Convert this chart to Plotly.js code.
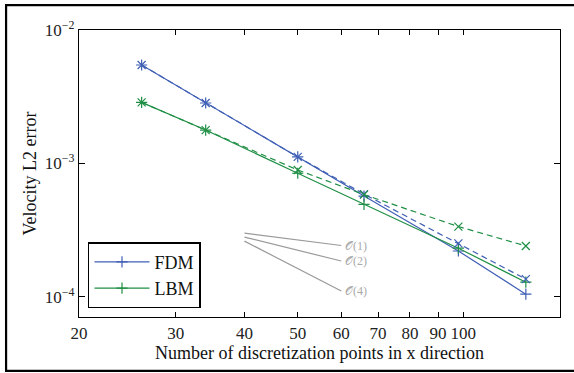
<!DOCTYPE html>
<html>
<head>
<meta charset="utf-8">
<script src="https://cdn.plot.ly/plotly-3.0.1.min.js"></script>
<style>html,body{margin:0;padding:0;background:#fff;}#plot{width:574px;height:373px;}</style>
</head>
<body>
<div id="plot"></div>
<script>
// ---- data ----
const nPoints = [26, 34, 50, 66, 98, 130];
const fdmSolid = [5.47e-3, 2.84e-3, 1.12e-3, 5.7e-4, 2.21e-4, 1.05e-4];
const fdmDashed = [5.47e-3, 2.84e-3, 1.12e-3, 5.9e-4, 2.52e-4, 1.36e-4];
const lbmSolid = [2.87e-3, 1.78e-3, 8.45e-4, 4.94e-4, 2.32e-4, 1.29e-4];
const lbmDashed = [2.87e-3, 1.78e-3, 8.94e-4, 5.85e-4, 3.37e-4, 2.41e-4];

const refX = [40, 60];
const refO1 = [3.01e-4, 2.43e-4];
const refO2 = [2.81e-4, 1.86e-4];
const refO4 = [2.62e-4, 1.11e-4];
const refLabels = ["𝒪(1)", "𝒪(2)", "𝒪(4)"];

const xTickVals = [20, 30, 40, 50, 60, 70, 80, 90, 100];
const yMajor = [1e-4, 1e-3, 1e-2];
const yMajorText = ['10<sup>−4</sup>', '10<sup>−3</sup>', '10<sup>−2</sup>'];
const yMinor = [];
[1e-5, 1e-4, 1e-3].forEach(d => { for (let k = 2; k <= 9; k++) yMinor.push(k * d); });

const blue = '#3f5fb5';
const green = '#1f8f45';
const FONT = 'Liberation Serif, Times New Roman, serif';

function series(y, color, dash, sym, name, show) {
  return {
    x: nPoints, y: y, type: 'scatter', mode: 'lines+markers', name: name, showlegend: show,
    line: {color: color, width: 1.2, dash: dash},
    marker: {symbol: sym, size: 8, color: color, line: {color: color, width: 1.2}}
  };
}

const traces = [
  series(fdmSolid, blue, 'solid', 'cross-thin', 'FDM', true),
  series(lbmSolid, green, 'solid', 'cross-thin', 'LBM', true),
  series(fdmDashed, blue, '6px,4px', 'x-thin', 'FDM (dashed)', false),
  series(lbmDashed, green, '6px,4px', 'x-thin', 'LBM (dashed)', false)
];
[refO1, refO2, refO4].forEach((r, i) => {
  traces.push({x: refX, y: r, type: 'scatter', mode: 'lines', showlegend: false,
    line: {color: '#9a9a9a', width: 1.2}, hoverinfo: 'skip'});
});

const annotations = [refO1, refO2, refO4].map((r, i) => ({
  x: Math.log10(refX[1]), y: Math.log10(r[1]), xref: 'x', yref: 'y',
  text: refLabels[i], showarrow: false, xanchor: 'left', yanchor: 'middle', xshift: 2,
  font: {family: FONT, size: 12, color: '#aaaaaa'}
}));

const layout = {
  width: 574, height: 373,
  margin: {l: 79, r: 13.5, t: 30, b: 56},
  paper_bgcolor: '#fff', plot_bgcolor: '#fff',
  font: {family: FONT, size: 17, color: '#222'},
  showlegend: true,
  xaxis: {
    type: 'log', range: [Math.log10(20), Math.log10(150)],
    tickvals: xTickVals, ticktext: xTickVals.map(String),
    ticks: 'inside', ticklen: 5, tickwidth: 1, tickcolor: '#000',
    showline: true, linecolor: '#000', linewidth: 1.2, mirror: 'ticks',
    showgrid: false, zeroline: false,
    tickfont: {family: FONT, size: 17, color: '#222'},
    title: {text: 'Number of discretization points in x direction', font: {family: FONT, size: 18, color: '#111'}, standoff: 0}
  },
  yaxis: {
    type: 'log', range: [Math.log10(7.08e-5), -2],
    tickvals: yMajor, ticktext: yMajorText,
    ticks: 'inside', ticklen: 6, tickwidth: 1, tickcolor: '#000',
    showline: true, linecolor: '#000', linewidth: 1.2, mirror: 'ticks',
    showgrid: false, zeroline: false,
    tickfont: {family: FONT, size: 17, color: '#222'},
    title: {text: 'Velocity L2 error', font: {family: FONT, size: 18, color: '#111'}, standoff: 3}
  },
  yaxis2: {
    type: 'log', range: [Math.log10(7.08e-5), -2], overlaying: 'y', side: 'left',
    tickvals: yMinor, showticklabels: false,
    ticks: 'inside', ticklen: 3, tickwidth: 1, tickcolor: '#000',
    showline: false, mirror: 'ticks', showgrid: false, zeroline: false
  },
  legend: {
    x: 0.0187, y: 0.031, xanchor: 'left', yanchor: 'bottom',
    bgcolor: '#fff', bordercolor: '#000', borderwidth: 1.5,
    itemwidth: 55,
    font: {family: FONT, size: 18, color: '#111'}
  },
  annotations: annotations,
  shapes: [{
    type: 'rect', xref: 'paper', yref: 'paper',
    x0: -0.1516, x1: 1.2, y0: -0.188, y1: 1.087,
    line: {color: '#000', width: 2.2}, fillcolor: 'rgba(0,0,0,0)'
  }]
};

Plotly.newPlot('plot', traces, layout, {displayModeBar: false, staticPlot: true});
</script>
</body>
</html>
